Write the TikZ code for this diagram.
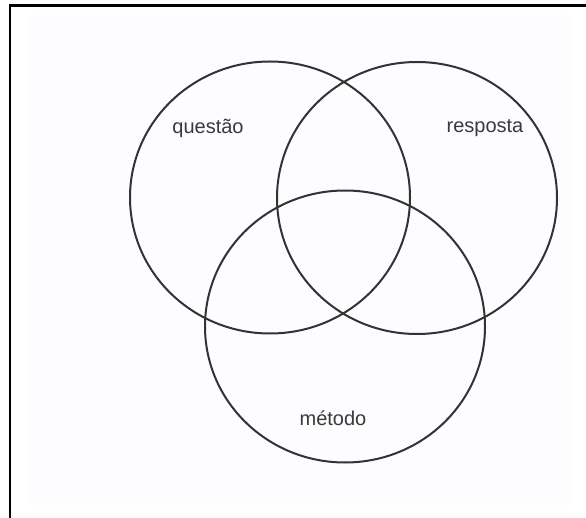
\documentclass[tikz,border=0pt]{standalone}
\usepackage{fontspec}
\setmainfont{Liberation Sans}
\usepackage{tikz}
\definecolor{ringGray}{HTML}{333333}
\definecolor{labelGray}{HTML}{3A3A3A}
\definecolor{paperBg}{HTML}{FDFCFF}

\begin{document}
\begin{tikzpicture}[x=1pt, y=-1pt, font=\fontsize{20}{24}\selectfont]
  \useasboundingbox (0,0) rectangle (586,518);

  % faint scanned paper and the two frame edges
  \fill[paperBg] (30,15) rectangle (572,505);
  \draw[black, line width=2.4pt] (10,518) -- (10,5.5) -- (586,5.5);

  % centres of the three rings
  \coordinate (cQ) at (270,197.5);
  \coordinate (cR) at (417,198);
  \coordinate (cM) at (345,326.5);

  \foreach \c in {cQ,cR,cM}{
    \draw[ringGray, line width=2pt] (\c) ellipse [x radius=140, y radius=136];
  }

  \node[text=labelGray] (questao)  at (208,128) {questão};
  \node[text=labelGray] (resposta) at (485,128) {resposta};
  \node[text=labelGray] (metodo)   at (333,418) {método};

\end{tikzpicture}
\end{document}
